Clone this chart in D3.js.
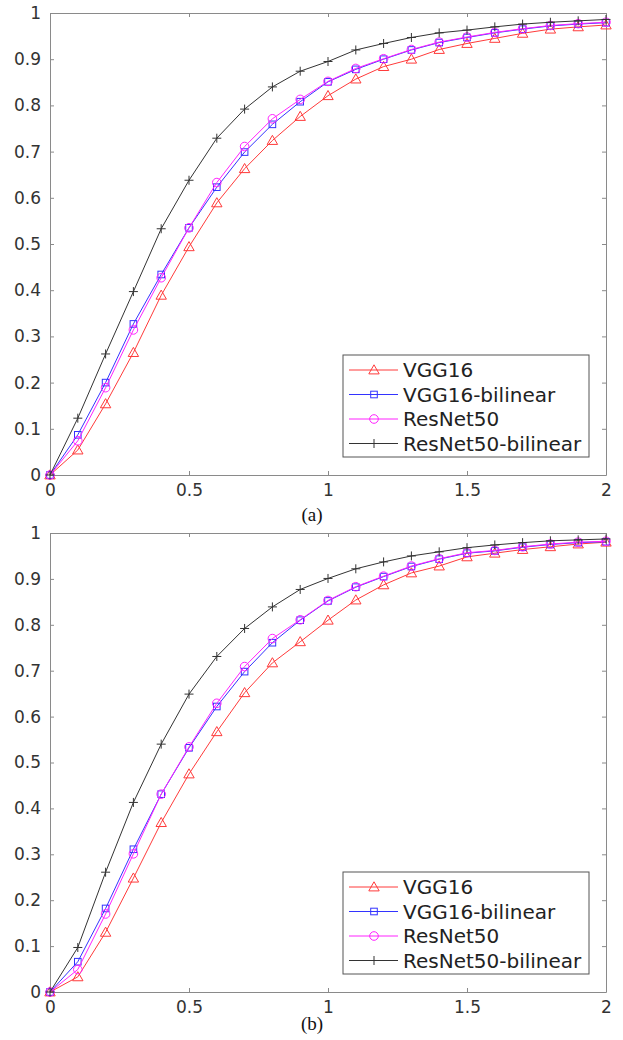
<!DOCTYPE html>
<html>
<head>
<meta charset="utf-8">
<script src="https://cdn.jsdelivr.net/npm/d3@7"></script>
<style>
  html, body { margin: 0; padding: 0; background: #fff; }
  svg { display: block; }
</style>
</head>
<body>
<svg id="chart" width="623" height="1040"></svg>
<script>
// ---------- data ----------
const xValues = [0, 0.1, 0.2, 0.3, 0.4, 0.5, 0.6, 0.7, 0.8, 0.9, 1.0, 1.1, 1.2, 1.3, 1.4, 1.5, 1.6, 1.7, 1.8, 1.9, 2.0];
const seriesNames = ["VGG16", "VGG16-bilinear", "ResNet50", "ResNet50-bilinear"];
const xTicks = [0, 0.5, 1, 1.5, 2];
const xTickLabels = ["0", "0.5", "1", "1.5", "2"];
const yTicks = [0, 0.1, 0.2, 0.3, 0.4, 0.5, 0.6, 0.7, 0.8, 0.9, 1];
const yTickLabels = ["0", "0.1", "0.2", "0.3", "0.4", "0.5", "0.6", "0.7", "0.8", "0.9", "1"];
const captions = ["(a)", "(b)"];

// panel (a)
const aVGG16         = [0, 0.054, 0.154, 0.265, 0.389, 0.494, 0.589, 0.663, 0.724, 0.776, 0.821, 0.857, 0.884, 0.900, 0.921, 0.934, 0.945, 0.956, 0.965, 0.970, 0.974];
const aVGG16Bilinear = [0, 0.087, 0.200, 0.327, 0.434, 0.535, 0.623, 0.699, 0.759, 0.808, 0.851, 0.878, 0.900, 0.920, 0.936, 0.947, 0.957, 0.965, 0.972, 0.976, 0.979];
const aResNet50      = [0, 0.074, 0.189, 0.314, 0.427, 0.535, 0.633, 0.711, 0.771, 0.813, 0.852, 0.880, 0.901, 0.921, 0.937, 0.948, 0.958, 0.966, 0.973, 0.977, 0.980];
const aResNet50Bil   = [0, 0.123, 0.262, 0.397, 0.533, 0.638, 0.729, 0.792, 0.840, 0.874, 0.895, 0.920, 0.934, 0.947, 0.957, 0.963, 0.970, 0.976, 0.980, 0.983, 0.986];

// panel (b)
const bVGG16         = [0, 0.033, 0.130, 0.248, 0.369, 0.475, 0.567, 0.652, 0.717, 0.763, 0.810, 0.854, 0.887, 0.913, 0.928, 0.948, 0.956, 0.964, 0.970, 0.976, 0.980];
const bVGG16Bilinear = [0, 0.066, 0.182, 0.311, 0.431, 0.532, 0.622, 0.698, 0.761, 0.810, 0.852, 0.882, 0.905, 0.927, 0.943, 0.956, 0.961, 0.969, 0.975, 0.979, 0.981];
const bResNet50      = [0, 0.049, 0.170, 0.301, 0.431, 0.534, 0.629, 0.709, 0.770, 0.811, 0.853, 0.883, 0.906, 0.928, 0.944, 0.957, 0.962, 0.970, 0.976, 0.980, 0.982];
const bResNet50Bil   = [0, 0.097, 0.261, 0.413, 0.540, 0.649, 0.731, 0.792, 0.839, 0.877, 0.901, 0.922, 0.937, 0.950, 0.959, 0.968, 0.974, 0.979, 0.983, 0.985, 0.987];

const panelsData = [
  [aVGG16, aVGG16Bilinear, aResNet50, aResNet50Bil],
  [bVGG16, bVGG16Bilinear, bResNet50, bResNet50Bil]
];

// ---------- styles ----------
const colors = ["#ff3a3a", "#3333ff", "#ff22ff", "#333333"];
const markers = ["triangle", "square", "circle", "plus"];
const panelBoxes = [
  {left: 50, right: 606, top: 13, bottom: 475, caption: 521},
  {left: 50, right: 606, top: 533, bottom: 992, caption: 1030}
];

const svg = d3.select("#chart");
const axisColor = "#8a8a8a";
const textColor = "#333";
const fontFamily = "'DejaVu Sans', sans-serif";

function drawMarker(g, type, x, y, color) {
  if (type === "triangle") {
    const s = 5.2;
    g.append("path")
      .attr("d", `M${x},${y - s}L${x + s},${y + s * 0.75}L${x - s},${y + s * 0.75}Z`)
      .attr("fill", "none").attr("stroke", color).attr("stroke-width", 1);
  } else if (type === "square") {
    g.append("rect").attr("x", x - 3.3).attr("y", y - 3.3).attr("width", 6.6).attr("height", 6.6)
      .attr("fill", "none").attr("stroke", color).attr("stroke-width", 1);
  } else if (type === "circle") {
    g.append("circle").attr("cx", x).attr("cy", y).attr("r", 4.3)
      .attr("fill", "none").attr("stroke", color).attr("stroke-width", 1);
  } else if (type === "plus") {
    g.append("path").attr("d", `M${x - 4.5},${y}H${x + 4.5}M${x},${y - 4.5}V${y + 4.5}`)
      .attr("fill", "none").attr("stroke", color).attr("stroke-width", 1);
  }
}

panelBoxes.forEach((box, pi) => {
  const x = d3.scaleLinear().domain([0, 2]).range([box.left, box.right]);
  const y = d3.scaleLinear().domain([0, 1]).range([box.bottom, box.top]);
  const g = svg.append("g");

  // axes
  const xAxis = d3.axisBottom(x).tickValues(xTicks).tickFormat((d, i) => xTickLabels[i]).tickSizeInner(-4).tickSizeOuter(0).tickPadding(9);
  const yAxis = d3.axisLeft(y).tickValues(yTicks).tickFormat((d, i) => yTickLabels[i]).tickSizeInner(-4).tickSizeOuter(0).tickPadding(9);
  const xTop = d3.axisTop(x).tickValues(xTicks).tickFormat("").tickSizeInner(-4).tickSizeOuter(0);
  const yRight = d3.axisRight(y).tickValues(yTicks).tickFormat("").tickSizeInner(-4).tickSizeOuter(0);

  const gx = g.append("g").attr("transform", `translate(0,${box.bottom})`).call(xAxis);
  const gy = g.append("g").attr("transform", `translate(${box.left},0)`).call(yAxis);
  const gxt = g.append("g").attr("transform", `translate(0,${box.top})`).call(xTop);
  const gyr = g.append("g").attr("transform", `translate(${box.right},0)`).call(yRight);
  [gx, gy, gxt, gyr].forEach(a => {
    a.select(".domain").attr("stroke", axisColor).attr("stroke-width", 1);
    a.selectAll(".tick line").attr("stroke", axisColor);
    a.selectAll(".tick text").attr("fill", textColor).attr("font-family", fontFamily).attr("font-size", 17);
  });
  gx.selectAll(".tick text").attr("dy", "0.71em");

  // lines + markers
  const line = d3.line().x((d, i) => x(xValues[i])).y(d => y(d));
  panelsData[pi].forEach((vals, si) => {
    g.append("path").datum(vals).attr("d", line)
      .attr("fill", "none").attr("stroke", colors[si]).attr("stroke-width", 1);
    const mg = g.append("g");
    vals.forEach((v, i) => drawMarker(mg, markers[si], x(xValues[i]), y(v), colors[si]));
  });

  // legend
  const lg = g.append("g");
  const lx0 = 343, lx1 = 589;
  const lyBottom = box.bottom - 18, lyTop = lyBottom - 102;
  lg.append("rect").attr("x", lx0).attr("y", lyTop).attr("width", lx1 - lx0).attr("height", lyBottom - lyTop)
    .attr("fill", "#fff").attr("stroke", "#555").attr("stroke-width", 1);
  seriesNames.forEach((name, si) => {
    const ly = lyTop + 15 + si * 24.5;
    lg.append("line").attr("x1", 349).attr("x2", 398).attr("y1", ly).attr("y2", ly)
      .attr("stroke", colors[si]).attr("stroke-width", 1);
    drawMarker(lg, markers[si], 374, ly, colors[si]);
    lg.append("text").attr("x", 403).attr("y", ly).attr("dy", "0.36em")
      .attr("font-family", fontFamily).attr("font-size", 20).attr("fill", "#222").text(name);
  });

  // caption
  g.append("text").attr("x", 312).attr("y", box.caption)
    .attr("text-anchor", "middle").attr("font-family", "'Liberation Serif', 'Times New Roman', serif")
    .attr("font-size", 19).attr("fill", "#111").text(captions[pi]);
});
</script>
</body>
</html>
